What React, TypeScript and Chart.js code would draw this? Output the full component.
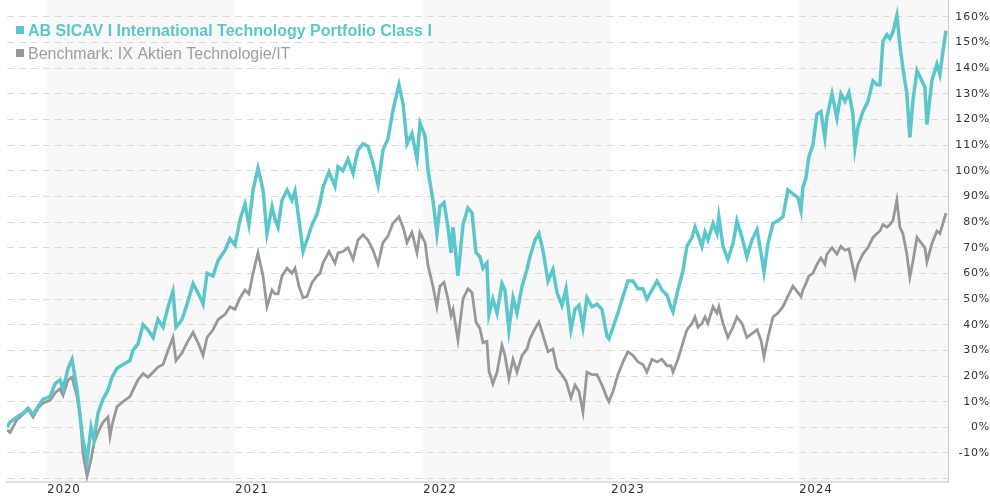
import React, { useEffect, useRef } from "react";
import { Chart, registerables } from "chart.js";

Chart.register(...registerables);

const seriesNames = [
  "AB SICAV I International Technology Portfolio Class I",
  "Benchmark: IX Aktien Technologie/IT",
];
const yearTicks = [2020, 2021, 2022, 2023, 2024];
const shadedYears = [2020, 2022, 2024];
const percentTicks = [-20, -10, 0, 10, 20, 30, 40, 50, 60, 70, 80, 90, 100, 110, 120, 130, 140, 150, 160];

// decimal-year dates of the readings
const dates = [
  2019.787, 2019.803, 2019.84, 2019.872, 2019.899, 2019.926, 2019.952, 2019.979,
  2020.016, 2020.043, 2020.069, 2020.085, 2020.112, 2020.133, 2020.16, 2020.176,
  2020.191, 2020.213, 2020.234, 2020.25, 2020.271, 2020.298, 2020.324, 2020.335,
  2020.346, 2020.372, 2020.404, 2020.441, 2020.457, 2020.484, 2020.511, 2020.537,
  2020.564, 2020.59, 2020.617, 2020.644, 2020.67, 2020.686, 2020.718, 2020.745,
  2020.777, 2020.809, 2020.83, 2020.851, 2020.883, 2020.91, 2020.947, 2020.973,
  2021.0, 2021.027, 2021.053, 2021.074, 2021.096, 2021.122, 2021.149, 2021.17,
  2021.197, 2021.213, 2021.229, 2021.25, 2021.277, 2021.303, 2021.319, 2021.34,
  2021.362, 2021.383, 2021.41, 2021.436, 2021.452, 2021.468, 2021.5, 2021.532,
  2021.548, 2021.574, 2021.601, 2021.628, 2021.654, 2021.681, 2021.707, 2021.734,
  2021.761, 2021.787, 2021.814, 2021.84, 2021.872, 2021.894, 2021.915, 2021.941,
  2021.968, 2021.984, 2022.011, 2022.027, 2022.053, 2022.074, 2022.09, 2022.112,
  2022.133, 2022.149, 2022.16, 2022.186, 2022.213, 2022.239, 2022.261, 2022.282,
  2022.303, 2022.319, 2022.34, 2022.351, 2022.372, 2022.394, 2022.42, 2022.436,
  2022.457, 2022.479, 2022.5, 2022.527, 2022.553, 2022.569, 2022.596, 2022.617,
  2022.638, 2022.665, 2022.691, 2022.713, 2022.739, 2022.761, 2022.787, 2022.809,
  2022.83, 2022.851, 2022.872, 2022.899, 2022.926, 2022.952, 2022.979, 2022.989,
  2023.011, 2023.037, 2023.064, 2023.09, 2023.117, 2023.144, 2023.17, 2023.191,
  2023.218, 2023.245, 2023.271, 2023.298, 2023.319, 2023.33, 2023.356, 2023.383,
  2023.404, 2023.431, 2023.447, 2023.463, 2023.484, 2023.5, 2023.516, 2023.543,
  2023.564, 2023.574, 2023.596, 2023.622, 2023.649, 2023.67, 2023.697, 2023.723,
  2023.75, 2023.777, 2023.798, 2023.814, 2023.835, 2023.862, 2023.888, 2023.915,
  2023.941, 2023.968, 2023.995, 2024.011, 2024.021, 2024.037, 2024.053, 2024.074,
  2024.096, 2024.117, 2024.138, 2024.149, 2024.176, 2024.202, 2024.223, 2024.245,
  2024.266, 2024.287, 2024.298, 2024.314, 2024.34, 2024.367, 2024.394, 2024.415,
  2024.431, 2024.447, 2024.468, 2024.484, 2024.5, 2024.521, 2024.537, 2024.553,
  2024.574, 2024.59, 2024.606, 2024.628, 2024.654, 2024.67, 2024.681, 2024.707,
  2024.734, 2024.75, 2024.766, 2024.782,
];

// AB SICAV I International Technology Portfolio Class I, cumulative %
const fund = [
  0, 2, 4, 5.5, 7.5, 5, 8, 11,
  12, 17, 18.5, 15, 23, 26.5, 14.5, 4,
  -5, -13, 0, -5, 5.5, 11, 14.5, 17,
  19.5, 23, 24.5, 26, 30, 32.5, 40, 38,
  35, 42, 39, 47, 53, 39, 42, 48,
  56, 51.5, 48, 60, 59, 65, 69, 73.5,
  71, 81, 87, 79, 92.5, 101, 92.5, 75.5,
  86, 81, 78, 88.5, 92.5, 88.5, 92, 81,
  68.5, 73, 79, 83, 87.5, 93.5, 99.5, 94,
  101.5, 100, 104.5, 99, 108, 110.5, 109.5, 103,
  94.5, 108, 112.5, 123.5, 133.5, 126, 110.5, 114.5,
  104.5, 118.5, 113.5, 100, 88.5, 75.5, 86, 87.5,
  78, 68, 78, 59, 79, 85.5, 83.5, 68,
  66.5, 62, 64, 44, 50, 44.5, 56, 53.5,
  38, 50.5, 44.5, 55, 61.5, 66.5, 73, 75.5,
  69, 57, 61.5, 52.5, 47.5, 54, 38, 46,
  47.5, 39, 50.5, 47, 48, 46, 35.5, 34.5,
  39, 44.5, 51, 57, 57, 54, 54, 50,
  53.5, 57, 53.5, 51.5, 47, 45, 53.5, 61,
  70.5, 74, 78, 75, 70.5, 76, 73, 79.5,
  75.5, 82, 70.5, 65.5, 71.5, 80.5, 74, 66.5,
  73, 77, 68, 60.5, 71.5, 79.5, 80.5, 82,
  92.5, 91, 89.5, 84.5, 93.5, 97, 105.5, 110,
  122, 123, 113, 121, 130, 120.5, 130, 127,
  130.5, 122, 109, 117, 123, 127, 135, 133.5,
  133.5, 150.5, 153, 151.5, 154, 160.5, 149, 140,
  130, 113, 127, 139, 135, 132.5, 118, 135,
  141.5, 137.5, 146.5, 154.5,
];

// Benchmark: IX Aktien Technologie/IT, cumulative %
const bench = [
  -1, -2, 3, 5, 7, 4, 7.5, 9.5,
  10.5, 13.5, 15, 12.5, 18.5, 19.5, 12, 5,
  -10, -19, -12.5, -6, -2, 2, 4, -3.5,
  1, 8, 10, 12, 14.5, 18.5, 21, 19.5,
  21.5, 23.5, 24.5, 30, 35, 26, 29, 33,
  37, 32, 28, 35, 38, 42, 44, 47,
  46, 50.5, 53.5, 52, 60, 68, 59, 47,
  53.5, 52, 52, 59, 62, 60, 62, 55,
  50.5, 51, 56.5, 59, 60, 64, 68.5, 64,
  68, 68.5, 70, 65.5, 73, 75, 73, 69,
  63.5, 72, 74.5, 79.5, 82, 78, 72, 76,
  68, 76, 72, 63, 55, 47, 55, 56.5,
  50, 43.5, 46, 34, 50, 54, 52.5, 41,
  38.5, 33, 33.5, 22, 17, 21.5, 32, 28,
  19, 26.5, 21.5, 28, 30.5, 34.5, 38.5, 41,
  36, 29.5, 30.5, 23, 20.5, 18, 11.5, 16.5,
  14, 6, 21.5, 20.5, 20.5, 16.5, 11.5, 10,
  14, 20.5, 25.5, 29.5, 28, 25.5, 24.5, 21.5,
  26.5, 25.5, 26.5, 24, 24, 21.5, 26.5, 33,
  38, 40.5, 43, 39, 40.5, 43, 40.5, 47,
  44.5, 47, 40.5, 35, 39, 43, 40.5, 35,
  36.5, 38, 34, 27.5, 35, 43, 44.5, 47,
  51, 55, 52.5, 51, 53.5, 56, 59, 60,
  63.5, 66, 63.5, 67.5, 70, 67.5, 70.5, 69,
  69.5, 62.5, 58.5, 63.5, 67.5, 70, 74, 75.5,
  76.5, 79, 78, 79, 80.5, 88.5, 78, 75.5,
  67.5, 58.5, 64.5, 74, 71.5, 70, 64.5, 71.5,
  76.5, 75.5, 79.5, 83.5,
];

const xMin = 2019.787;
const xMax = 2024.793;
const yMin = -21.3;
const yMax = 166.5;

const TEAL = "rgb(91,198,204)";
const GREY = "rgb(152,152,152)";
const LEGEND_GREY = "rgb(158,158,158)";
const AXIS_TEXT = "#333333";

const yearBands = {
  id: "yearBands",
  beforeDraw(chart: any) {
    const { ctx, chartArea, scales } = chart;
    const x = scales.x;
    ctx.save();
    ctx.fillStyle = "#f8f8f8";
    shadedYears.forEach((yr) => {
      const x0 = Math.max(x.getPixelForValue(yr), chartArea.left);
      const x1 = Math.min(x.getPixelForValue(yr + 1), chartArea.right);
      if (x1 > x0) ctx.fillRect(x0, chartArea.top, x1 - x0, chartArea.bottom - chartArea.top);
    });
    ctx.restore();
    // slightly spaced axis lettering, as in the reference
    if ("letterSpacing" in ctx) (ctx as any).letterSpacing = "0.8px";
  },
};

const insideLegend = {
  id: "insideLegend",
  afterDraw(chart: any) {
    const { ctx, chartArea } = chart;
    if ("letterSpacing" in ctx) (ctx as any).letterSpacing = "0px";
    ctx.save();
    chart.data.datasets.forEach((ds: any, i: number) => {
      const top = chartArea.top + 26 + i * 23;
      ctx.fillStyle = ds.borderColor;
      ctx.fillRect(chartArea.left + 9, top, 8, 8);
      ctx.font = (i === 0 ? "bold " : "") + '16px "Liberation Sans", Arial, sans-serif';
      ctx.fillStyle = i === 0 ? TEAL : LEGEND_GREY;
      ctx.textBaseline = "alphabetic";
      ctx.textAlign = "left";
      ctx.fillText(ds.label, chartArea.left + 21, top + 9.5);
    });
    ctx.restore();
  },
};

export default function App() {
  const ref = useRef<HTMLCanvasElement>(null);

  useEffect(() => {
    const canvas = ref.current;
    if (!canvas) return;
    const chart = new Chart(canvas, {
      type: "line",
      data: {
        datasets: [
          {
            label: seriesNames[0],
            data: dates.map((d, i) => ({ x: d, y: fund[i] })),
            borderColor: TEAL,
            backgroundColor: TEAL,
            borderWidth: 3.5,
            pointRadius: 0,
            tension: 0,
          },
          {
            label: seriesNames[1],
            data: dates.map((d, i) => ({ x: d, y: bench[i] })),
            borderColor: GREY,
            backgroundColor: GREY,
            borderWidth: 2.8,
            pointRadius: 0,
            tension: 0,
          },
        ],
      },
      options: {
        responsive: false,
        animation: false,
        events: [],
        layout: { padding: { left: 7, top: 0, right: 0, bottom: 0 } },
        plugins: {
          legend: { display: false },
          tooltip: { enabled: false },
        },
        scales: {
          x: {
            type: "linear",
            min: xMin,
            max: xMax,
            afterBuildTicks: (s: any) => {
              s.ticks = yearTicks.map((v) => ({ value: v }));
            },
            afterFit: (s: any) => {
              s.height = 18;
              s.paddingLeft = 0;
              s.paddingRight = 0;
            },
            grid: { display: false, drawTicks: false },
            border: { display: true, color: "#e0e0e0", width: 2 },
            ticks: {
              align: "start",
              padding: 1,
              maxRotation: 0,
              autoSkip: false,
              color: AXIS_TEXT,
              font: { family: '"DejaVu Sans", Verdana, sans-serif', size: 12 },
              callback: (v: any) => String(v),
            },
          },
          y: {
            type: "linear",
            position: "right",
            min: yMin,
            max: yMax,
            afterBuildTicks: (s: any) => {
              s.ticks = percentTicks.map((v) => ({ value: v }));
            },
            afterFit: (s: any) => {
              s.width = 42;
              s.paddingTop = 0;
              s.paddingBottom = 0;
            },
            grid: { color: "#dadada", lineWidth: 1, drawTicks: false },
            border: { display: true, color: "#cccccc", width: 1, dash: [7, 5] },
            ticks: {
              crossAlign: "far",
              padding: 12,
              autoSkip: false,
              color: AXIS_TEXT,
              font: { family: '"DejaVu Sans", Verdana, sans-serif', size: 11 },
              callback: (v: any) => (v === -20 ? "" : v + "%"),
            },
          },
        },
      } as any,
      plugins: [yearBands, insideLegend],
    });
    return () => chart.destroy();
  }, []);

  return (
    <div style={{ position: "absolute", left: 0, top: 0, width: 990, height: 500, background: "#ffffff" }}>
      <canvas ref={ref} width={990} height={500} style={{ display: "block", width: 990, height: 500 }} />
    </div>
  );
}
